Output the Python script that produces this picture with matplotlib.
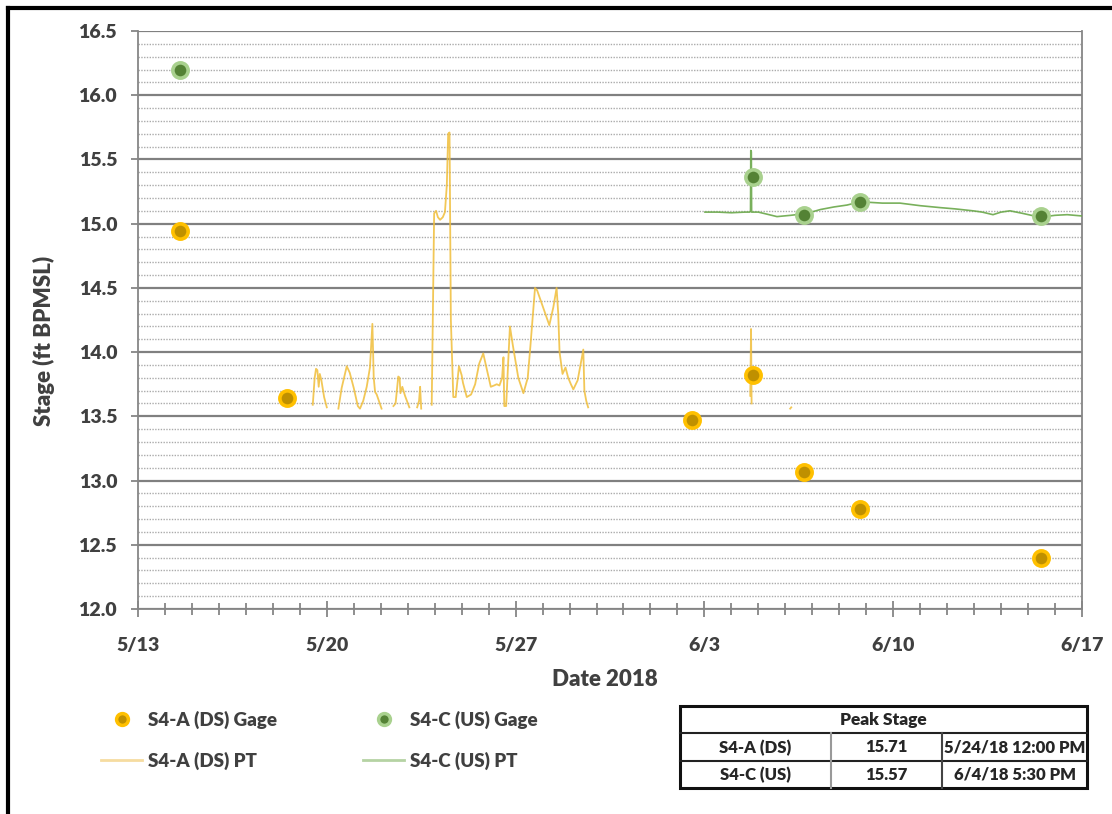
import matplotlib
matplotlib.use('Agg')
import matplotlib.pyplot as plt
import matplotlib.dates as mdates
from matplotlib.ticker import MultipleLocator, FixedLocator, FuncFormatter
from matplotlib.lines import Line2D
from matplotlib.patches import Rectangle
import numpy as np
import pandas as pd

plt.rcParams['font.family'] = ['Lato', 'DejaVu Sans']

# ---------------- data ----------------
BASE = pd.Timestamp('2018-05-13')

# Gage readings (days after 5/13/2018, stage ft)
ds_gage_days = [1.56, 5.52, 20.54, 22.80, 24.70, 26.77, 33.48]
ds_gage_vals = [14.94, 13.64, 13.47, 13.82, 13.07, 12.78, 12.40]
us_gage_days = [1.56, 22.80, 24.70, 26.77, 33.48]
us_gage_vals = [16.20, 15.36, 15.07, 15.17, 15.06]

# Pressure transducer record, S4-A (DS)  (nan = gap)
ds_pt_days = [6.48, 6.55, 6.60, 6.65, 6.70, 6.74, 6.80, 6.90, 7.00, np.nan,
              7.43, 7.55, 7.74, 7.85, 8.00, 8.15, 8.23, 8.35, 8.48, 8.60, 8.69, 8.74, 8.79, 8.85, 9.03, np.nan,
              9.47, 9.55, 9.65, 9.70, 9.73, 9.80, 9.90, 10.06, np.nan,
              10.35, 10.42, 10.46, 10.50, np.nan,
              10.89, 10.98, 11.05, 11.12, 11.20, 11.30, 11.38, 11.45, 11.50, 11.55, 11.60, 11.69, 11.78,
              11.90, 12.00, 12.05, 12.19, 12.35, 12.50, 12.65, 12.80, 12.95, 13.08, 13.20, 13.30, 13.40,
              13.50, 13.55, 13.58, 13.65, 13.72, 13.79, 13.90, 14.10, 14.29, 14.45, 14.55, 14.72, 14.80,
              15.00, 15.10, 15.25, 15.40, 15.52, 15.58, 15.63, 15.74, 15.85, 15.95, 16.05, 16.14, 16.30,
              16.45, 16.51, 16.55, 16.62, 16.69, np.nan,
              22.70, 22.73, 22.75, np.nan,
              24.18, 24.22]
ds_pt_vals = [13.59, 13.80, 13.87, 13.86, 13.73, 13.83, 13.78, 13.65, 13.57, np.nan,
              13.56, 13.72, 13.89, 13.84, 13.72, 13.58, 13.56, 13.62, 13.73, 13.88, 14.22, 13.80, 13.69, 13.67, 13.56, np.nan,
              13.58, 13.60, 13.81, 13.80, 13.68, 13.73, 13.66, 13.57, np.nan,
              13.57, 13.62, 13.73, 13.56, np.nan,
              13.59, 15.08, 15.10, 15.05, 15.03, 15.05, 15.09, 15.30, 15.70, 15.71, 14.25, 13.65, 13.65,
              13.89, 13.82, 13.76, 13.65, 13.67, 13.75, 13.91, 13.99, 13.85, 13.73, 13.74, 13.75, 13.74,
              13.80, 13.96, 13.58, 13.58, 13.90, 14.20, 14.05, 13.80, 13.68, 13.80, 14.05, 14.50, 14.48,
              14.36, 14.30, 14.21, 14.35, 14.50, 14.30, 14.00, 13.83, 13.88, 13.80, 13.75, 13.71, 13.78,
              13.95, 14.02, 13.70, 13.62, 13.57, np.nan,
              13.66, 14.18, 13.60, np.nan,
              13.56, 13.57]

# Pressure transducer record, S4-C (US)
us_pt_days = [21.02, 21.50, 22.00, 22.50, 22.68, 22.71, 22.72, 22.74, 22.75, 23.00, 23.30, 23.69,
              24.20, 24.80, 25.30, 25.80, 26.29, 26.77, 27.20, 27.60, 28.25, 29.00, 29.74, 30.30,
              30.96, 31.30, 31.70, 32.00, 32.33, 32.80, 33.44, 34.00, 34.45, 35.00]
us_pt_vals = [15.09, 15.09, 15.085, 15.09, 15.09, 15.10, 15.57, 15.56, 15.09, 15.09, 15.075, 15.055,
              15.065, 15.08, 15.11, 15.13, 15.145, 15.17, 15.165, 15.16, 15.16, 15.14, 15.125, 15.115,
              15.10, 15.09, 15.07, 15.09, 15.10, 15.08, 15.05, 15.065, 15.07, 15.06]

x_major_days = [0, 7, 14, 21, 28, 35]

legend_labels = ['S4-A (DS) Gage', 'S4-A (DS) PT', 'S4-C (US) Gage', 'S4-C (US) PT']

table_title = 'Peak Stage'
table_sites = ['S4-A (DS)', 'S4-C (US)']
table_peaks = ['15.71', '15.57']
table_times = ['5/24/18 12:00 PM', '6/4/18 5:30 PM']

# ---------------- helpers ----------------
def to_dates(days):
    out = []
    for d in days:
        if d is None or (isinstance(d, float) and np.isnan(d)):
            out.append(np.nan)
        else:
            out.append(mdates.date2num(BASE + pd.Timedelta(days=d)))
    return np.array(out, dtype=float)

TXT = '#404040'
GRAY = '#868686'
ORANGE_IN, ORANGE_OUT = '#BF9000', '#FFC000'
GREEN_IN, GREEN_OUT = '#548235', '#A9D18E'
ORANGE_LINE = '#F0BE3A'
GREEN_LINE = '#6AA84A'
WT = 'heavy'

W, H = 1112, 814
fig = plt.figure(figsize=(W / 100, H / 100), dpi=100)
ax = fig.add_axes([138 / W, 1 - 609 / H, (1082 - 138) / W, (609 - 31) / H])

# lines
ax.plot(to_dates(ds_pt_days), ds_pt_vals, color=ORANGE_LINE, lw=1.3, alpha=0.85, zorder=3)
ax.plot(to_dates(us_pt_days), us_pt_vals, color=GREEN_LINE, lw=1.2, alpha=0.9, zorder=3)
# gages
ax.plot(to_dates(ds_gage_days), ds_gage_vals, ls='none', marker='o', ms=11, mfc=ORANGE_IN,
        mec=ORANGE_OUT, mew=2.6, zorder=4)
ax.plot(to_dates(us_gage_days), us_gage_vals, ls='none', marker='o', ms=11, mfc=GREEN_IN,
        mec=GREEN_OUT, mew=2.6, zorder=4)

# axes
ax.set_xlim(mdates.date2num(BASE), mdates.date2num(BASE + pd.Timedelta(days=35)))
ax.set_ylim(12.0, 16.5)
ax.xaxis.set_major_locator(FixedLocator(to_dates(x_major_days)))
ax.xaxis.set_minor_locator(FixedLocator(to_dates(list(range(0, 36)))))

def fmt_date(x, pos):
    d = mdates.num2date(x)
    return f'{d.month}/{d.day}'

ax.xaxis.set_major_formatter(FuncFormatter(fmt_date))
ax.yaxis.set_major_locator(MultipleLocator(0.5))
ax.yaxis.set_minor_locator(MultipleLocator(0.1))
ax.yaxis.set_major_formatter(FuncFormatter(lambda v, p: f'{v:.1f}'))

ax.grid(False)
ax.yaxis.grid(True, which='major', color='#808080', lw=1.6, zorder=0)
ax.yaxis.grid(True, which='minor', color='#ababab', lw=1.0, ls=(0, (1, 1)), zorder=0)
ax.set_axisbelow(True)

for side in ['left', 'right', 'bottom', 'top']:
    ax.spines[side].set_color(GRAY)
    ax.spines[side].set_linewidth(1.3)
ax.spines['top'].set_visible(False)

ax.tick_params(axis='x', which='major', direction='inout', length=12, width=1.3, color=GRAY,
               pad=14.5, labelsize=14, labelcolor=TXT)
ax.tick_params(axis='x', which='minor', direction='inout', length=8.5, width=1.3, color=GRAY)
ax.tick_params(axis='y', which='major', direction='out', length=5, width=1.3, color=GRAY,
               pad=10, labelsize=14, labelcolor=TXT)
ax.tick_params(axis='y', which='minor', length=0)
for lab in ax.get_xticklabels() + ax.get_yticklabels():
    lab.set_fontweight(WT)

ax.set_ylabel('Stage (ft BPMSL)', fontsize=16, fontweight=WT, color=TXT)
ax.yaxis.set_label_coords(-0.088, 0.464)
ax.set_xlabel('Date 2018', fontsize=16, fontweight=WT, color=TXT)
ax.xaxis.set_label_coords(0.495, -0.104)

# legend
handles = [
    Line2D([], [], ls='none', marker='o', ms=8.5, mfc=ORANGE_IN, mec=ORANGE_OUT, mew=2.5),
    Line2D([], [], color='#F6DCA0', lw=2),
    Line2D([], [], ls='none', marker='o', ms=8.5, mfc=GREEN_IN, mec=GREEN_OUT, mew=2.5),
    Line2D([], [], color='#B5D3A3', lw=2),
]
leg = fig.legend(handles, legend_labels, ncol=2, loc='upper left',
                 bbox_to_anchor=(84 / W, 1 - 694 / H), frameon=False,
                 prop={'family': ['Lato', 'DejaVu Sans'], 'weight': WT, 'size': 13.5},
                 handlelength=2.2, handletextpad=0.3, columnspacing=4.6, labelspacing=1.2)
for t in leg.get_texts():
    t.set_color(TXT)

# table
tax = fig.add_axes([680 / W, 1 - 788 / H, 407 / W, 82 / H])
tax.set_xlim(0, 407)
tax.set_ylim(82, 0)
tax.axis('off')
tax.add_patch(Rectangle((0, 0), 407, 82, fill=False, lw=2.2, edgecolor='#111111', clip_on=False))
tax.plot([0, 407], [27, 27], color='#222222', lw=1.5, clip_on=False)
tax.plot([0, 407], [55, 55], color='#222222', lw=1.5, clip_on=False)
tax.plot([151, 151], [27, 82], color='#999999', lw=1.5, clip_on=False)
tax.plot([262, 262], [27, 82], color='#444444', lw=1.5, clip_on=False)
tax.text(203.5, 14, table_title, ha='center', va='center', fontsize=12.5, fontweight=WT, color='#262626')
col_x = [75.5, 206.5, 334.5]
for i, (s, p, t) in enumerate(zip(table_sites, table_peaks, table_times)):
    yc = 41.5 + i * 27.5
    for cx, txt in zip(col_x, [s, p, t]):
        tax.text(cx, yc, txt, ha='center', va='center', fontsize=12, fontweight=WT, color='#262626')

# outer frame (top and left edges)
fig.add_artist(Line2D([8 / W, 1], [1 - 8 / H, 1 - 8 / H], color='black', lw=3, transform=fig.transFigure))
fig.add_artist(Line2D([8 / W, 8 / W], [0, 1 - 8 / H], color='black', lw=3, transform=fig.transFigure))

fig.savefig('out.png', dpi=100)
